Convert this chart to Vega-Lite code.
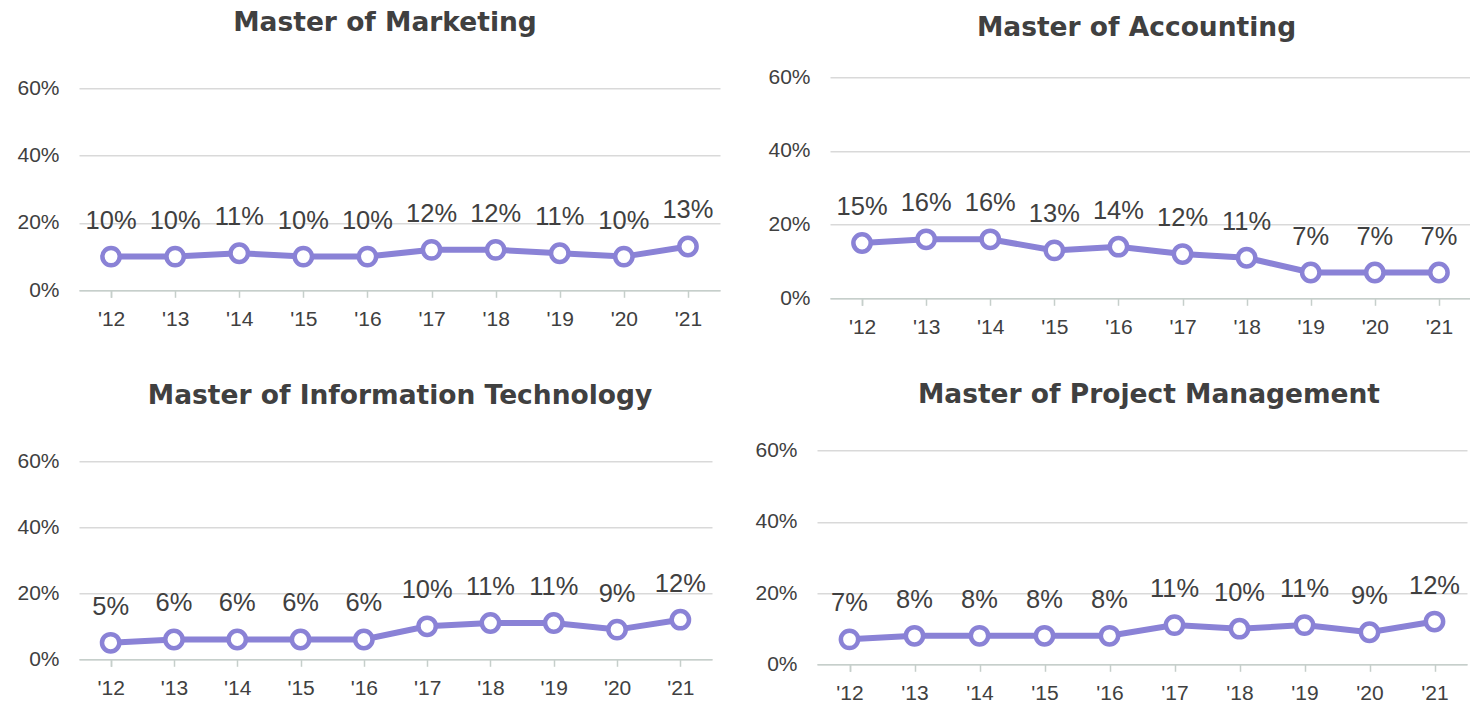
{
  "$schema": "https://vega.github.io/schema/vega-lite/v6.json",
  "background": "white",
  "padding": {"left": 16, "top": 9.3, "right": 0, "bottom": 0},
  "datasets": {
    "rows": [
      {"program": "Marketing", "year": "'12", "value": 0.10},
      {"program": "Marketing", "year": "'13", "value": 0.10},
      {"program": "Marketing", "year": "'14", "value": 0.11},
      {"program": "Marketing", "year": "'15", "value": 0.10},
      {"program": "Marketing", "year": "'16", "value": 0.10},
      {"program": "Marketing", "year": "'17", "value": 0.12},
      {"program": "Marketing", "year": "'18", "value": 0.12},
      {"program": "Marketing", "year": "'19", "value": 0.11},
      {"program": "Marketing", "year": "'20", "value": 0.10},
      {"program": "Marketing", "year": "'21", "value": 0.13},
      {"program": "Accounting", "year": "'12", "value": 0.15},
      {"program": "Accounting", "year": "'13", "value": 0.16},
      {"program": "Accounting", "year": "'14", "value": 0.16},
      {"program": "Accounting", "year": "'15", "value": 0.13},
      {"program": "Accounting", "year": "'16", "value": 0.14},
      {"program": "Accounting", "year": "'17", "value": 0.12},
      {"program": "Accounting", "year": "'18", "value": 0.11},
      {"program": "Accounting", "year": "'19", "value": 0.07},
      {"program": "Accounting", "year": "'20", "value": 0.07},
      {"program": "Accounting", "year": "'21", "value": 0.07},
      {"program": "IT", "year": "'12", "value": 0.05},
      {"program": "IT", "year": "'13", "value": 0.06},
      {"program": "IT", "year": "'14", "value": 0.06},
      {"program": "IT", "year": "'15", "value": 0.06},
      {"program": "IT", "year": "'16", "value": 0.06},
      {"program": "IT", "year": "'17", "value": 0.10},
      {"program": "IT", "year": "'18", "value": 0.11},
      {"program": "IT", "year": "'19", "value": 0.11},
      {"program": "IT", "year": "'20", "value": 0.09},
      {"program": "IT", "year": "'21", "value": 0.12},
      {"program": "PM", "year": "'12", "value": 0.07},
      {"program": "PM", "year": "'13", "value": 0.08},
      {"program": "PM", "year": "'14", "value": 0.08},
      {"program": "PM", "year": "'15", "value": 0.08},
      {"program": "PM", "year": "'16", "value": 0.08},
      {"program": "PM", "year": "'17", "value": 0.11},
      {"program": "PM", "year": "'18", "value": 0.10},
      {"program": "PM", "year": "'19", "value": 0.11},
      {"program": "PM", "year": "'20", "value": 0.09},
      {"program": "PM", "year": "'21", "value": 0.12}
    ]
  },
  "spacing": 44,
  "vconcat": [
    {
      "spacing": 47,
      "hconcat": [
        {
          "width": 641, "height": 229,
          "title": {"text": "Master of Marketing", "offset": 24.7, "dx": -14.5},
          "data": {"name": "rows"},
          "transform": [{"filter": "datum.program === 'Marketing'"}],
          "encoding": {
            "x": {"field": "year", "type": "ordinal", "title": null, "scale": {"paddingInner": 0, "paddingOuter": 0}},
            "y": {"field": "value", "type": "quantitative", "title": null, "scale": {"domain": [0, 0.6795], "nice": false, "zero": true}, "axis": {"values": [0, 0.2, 0.4, 0.6], "format": ".0%"}}
          },
          "layer": [
            {"mark": {"type": "line", "color": "#8A82D6", "strokeWidth": 6}},
            {"mark": {"type": "point", "filled": true, "fill": "white", "stroke": "#8A82D6", "strokeWidth": 4.5, "size": 300, "opacity": 1}},
            {"mark": {"type": "text", "dy": -36, "baseline": "middle", "font": "Liberation Sans", "fontSize": 25.5, "color": "#404040"}, "encoding": {"text": {"field": "value", "type": "quantitative", "format": ".0%"}}}
          ]
        },
        {
          "width": 641, "height": 237,
          "title": {"text": "Master of Accounting", "offset": 20, "dx": -14},
          "data": {"name": "rows"},
          "transform": [{"filter": "datum.program === 'Accounting'"}],
          "encoding": {
            "x": {"field": "year", "type": "ordinal", "title": null, "scale": {"paddingInner": 0, "paddingOuter": 0}},
            "y": {"field": "value", "type": "quantitative", "title": null, "scale": {"domain": [0, 0.6431], "nice": false, "zero": true}, "axis": {"values": [0, 0.2, 0.4, 0.6], "format": ".0%"}}
          },
          "layer": [
            {"mark": {"type": "line", "color": "#8A82D6", "strokeWidth": 6}},
            {"mark": {"type": "point", "filled": true, "fill": "white", "stroke": "#8A82D6", "strokeWidth": 4.5, "size": 300, "opacity": 1}},
            {"mark": {"type": "text", "dy": -36, "baseline": "middle", "font": "Liberation Sans", "fontSize": 25.5, "color": "#404040"}, "encoding": {"text": {"field": "value", "type": "quantitative", "format": ".0%"}}}
          ]
        }
      ]
    },
    {
      "spacing": 42,
      "hconcat": [
        {
          "width": 633, "height": 229,
          "title": {"text": "Master of Information Technology", "offset": 20.5, "dx": 4.5},
          "data": {"name": "rows"},
          "transform": [{"filter": "datum.program === 'IT'"}],
          "encoding": {
            "x": {"field": "year", "type": "ordinal", "title": null, "scale": {"paddingInner": 0, "paddingOuter": 0}},
            "y": {"field": "value", "type": "quantitative", "title": null, "scale": {"domain": [0, 0.694], "nice": false, "zero": true}, "axis": {"values": [0, 0.2, 0.4, 0.6], "format": ".0%"}}
          },
          "layer": [
            {"mark": {"type": "line", "color": "#8A82D6", "strokeWidth": 6}},
            {"mark": {"type": "point", "filled": true, "fill": "white", "stroke": "#8A82D6", "strokeWidth": 4.5, "size": 300, "opacity": 1}},
            {"mark": {"type": "text", "dy": -36, "baseline": "middle", "font": "Liberation Sans", "fontSize": 25.5, "color": "#404040"}, "encoding": {"text": {"field": "value", "type": "quantitative", "format": ".0%"}}}
          ]
        },
        {
          "width": 650, "height": 234,
          "title": {"text": "Master of Project Management", "offset": 22, "dx": 7},
          "data": {"name": "rows"},
          "transform": [{"filter": "datum.program === 'PM'"}],
          "encoding": {
            "x": {"field": "year", "type": "ordinal", "title": null, "scale": {"paddingInner": 0, "paddingOuter": 0}},
            "y": {"field": "value", "type": "quantitative", "title": null, "scale": {"domain": [0, 0.657], "nice": false, "zero": true}, "axis": {"values": [0, 0.2, 0.4, 0.6], "format": ".0%"}}
          },
          "layer": [
            {"mark": {"type": "line", "color": "#8A82D6", "strokeWidth": 6}},
            {"mark": {"type": "point", "filled": true, "fill": "white", "stroke": "#8A82D6", "strokeWidth": 4.5, "size": 300, "opacity": 1}},
            {"mark": {"type": "text", "dy": -36, "baseline": "middle", "font": "Liberation Sans", "fontSize": 25.5, "color": "#404040"}, "encoding": {"text": {"field": "value", "type": "quantitative", "format": ".0%"}}}
          ]
        }
      ]
    }
  ],
  "config": {
    "view": {"stroke": null},
    "title": {"font": "DejaVu Sans", "fontWeight": "bold", "fontSize": 26.5, "color": "#404040", "anchor": "middle", "frame": "group", "baseline": "middle"},
    "axis": {"labelFont": "Liberation Sans", "labelFontSize": 21, "labelColor": "#404040"},
    "axisX": {"tickBand": "extent", "domainColor": "#C6CFCB", "domainWidth": 1.5, "tickColor": "#C6CFCB", "tickWidth": 1.5, "tickSize": 7, "grid": false, "labelPadding": 11, "labelAngle": 0},
    "axisY": {"domain": false, "ticks": false, "grid": true, "gridColor": "#D9D9D9", "gridWidth": 1.5, "labelPadding": 20}
  }
}
